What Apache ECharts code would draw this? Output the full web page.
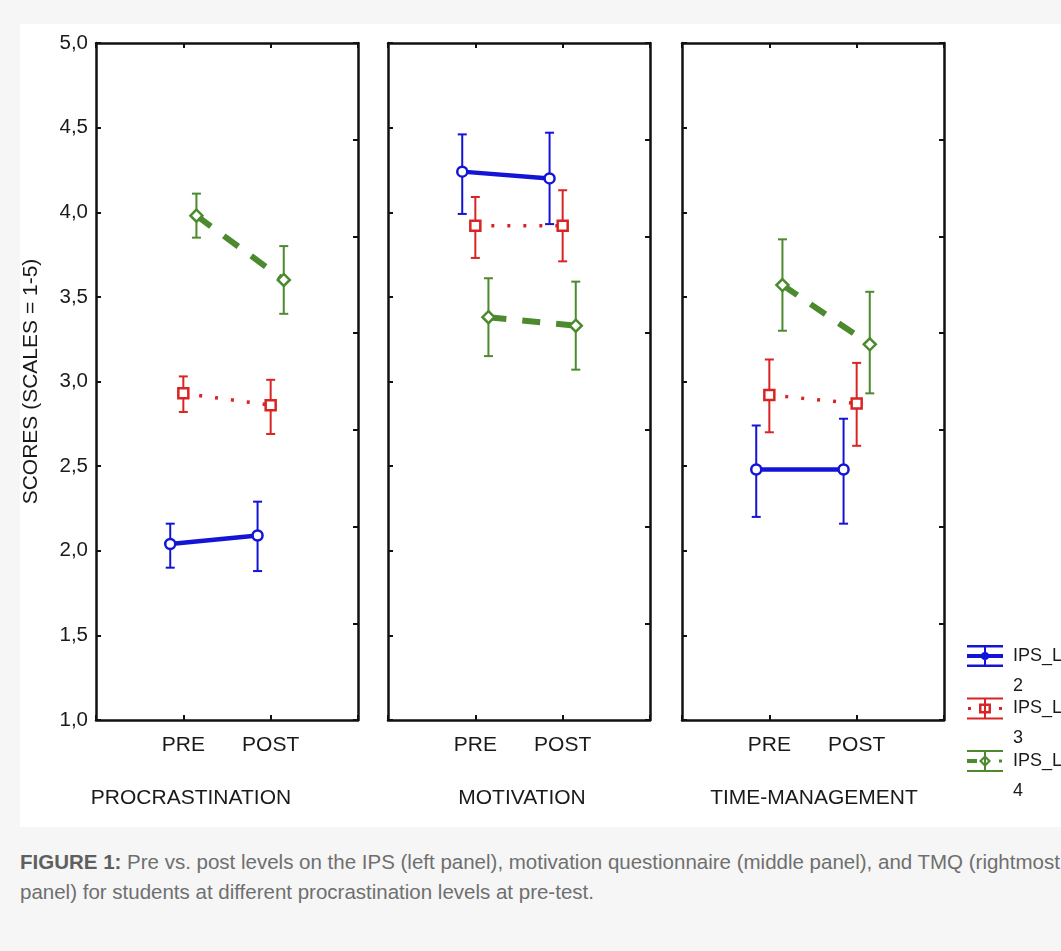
<!DOCTYPE html>
<html>
<head>
    <meta charset="utf-8">
    <title>IPS pre / post</title>
    <script src="https://cdn.jsdelivr.net/npm/echarts@6/dist/echarts.min.js"></script>
    <style>
        html, body { margin: 0; overflow: hidden; }
        body { background: #f6f6f6; font-family: "Liberation Sans", Arial, sans-serif; width: 1061px; height: 951px; }
        #paper { position: absolute; left: 20px; top: 24px; width: 1041px; height: 803px; background: #fff; }
        #chart { position: absolute; left: 0; top: 0; width: 1061px; height: 827px; }
        #caption { position: absolute; left: 20px; top: 847px; font-size: 20.5px; line-height: 30px; color: #6f6f6f; white-space: nowrap; }
        #caption b { color: #5f5f5f; }
    </style>
</head>
<body>
<div id="paper"></div>
<div id="chart"></div>
<div id="caption"><b>FIGURE 1:</b> Pre vs. post levels on the IPS (left panel), motivation questionnaire (middle panel), and TMQ (rightmost<br>panel) for students at different procrastination levels at pre-test.</div>

<script>
    // panels / phases / groups
    var panels = ['PROCRASTINATION', 'MOTIVATION', 'TIME-MANAGEMENT'];
    var phases = ['PRE', 'POST'];
    var groups = ['IPS_LEVEL 2', 'IPS_LEVEL 3', 'IPS_LEVEL 4'];

    // values per panel: [pre, post]
    var meanLevel2 = [[2.04, 2.09], [4.24, 4.20], [2.48, 2.48]];
    var lowLevel2  = [[1.90, 1.88], [3.99, 3.93], [2.20, 2.16]];
    var highLevel2 = [[2.16, 2.29], [4.46, 4.47], [2.74, 2.78]];

    var meanLevel3 = [[2.93, 2.86], [3.92, 3.92], [2.92, 2.87]];
    var lowLevel3  = [[2.82, 2.69], [3.73, 3.71], [2.70, 2.62]];
    var highLevel3 = [[3.03, 3.01], [4.09, 4.13], [3.13, 3.11]];

    var meanLevel4 = [[3.98, 3.60], [3.38, 3.33], [3.57, 3.22]];
    var lowLevel4  = [[3.85, 3.40], [3.15, 3.07], [3.30, 2.93]];
    var highLevel4 = [[4.11, 3.80], [3.61, 3.59], [3.84, 3.53]];

    var means = [meanLevel2, meanLevel3, meanLevel4];
    var lows = [lowLevel2, lowLevel3, lowLevel4];
    var highs = [highLevel2, highLevel3, highLevel4];

    // styling
    var colors = ['#1414d6', '#d82424', '#4b8a2d'];
    var dodge = [-0.15, 0, 0.15];
    var gridLeft = [96, 388, 682];
    var titleX = [191, 522, 814];
    var symbols = ['circle', 'rect', 'diamond'];
    var symbolSizes = [10, 10, 12];
    var lineStyles = [
        {width: 4.5, type: 'solid'},
        {width: 3.5, type: [3, 13]},
        {width: 6, type: [18, 16]}
    ];
    var legendIcons = [
        'path://M0 0h36v2.5H0z M0 19.5h36v2.5H0z M17 0h2v22h-2z M0 9h36v4H0z M14 11a4 4 0 1 1 8 0a4 4 0 1 1 -8 0z',
        'path://M0 0h36v2H0z M0 20h36v2H0z M17 0h2v22h-2z M12 6h12v10H12z M14.5 8.5v5h7v-5z M1 9.5h3v3H1z M32 9.5h3v3h-3z',
        'path://M0 0h36v2H0z M0 20h36v2H0z M17 0h2v22h-2z M0 9h10v4H0z M32 9.5h3v3h-3z M18 5l6 6l-6 6l-6 -6z M18 8l-3 3l3 3l3 -3z'
    ];
    var ink = '#111';
    var fontFamily = '"Liberation Sans", Arial, sans-serif';

    function errorBar(params, api) {
        var x = api.value(0);
        var lo = api.coord([x, api.value(1)]);
        var hi = api.coord([x, api.value(2)]);
        var style = {stroke: api.visual('color'), lineWidth: 2};
        var w = 4.5;
        return {
            type: 'group',
            children: [
                {type: 'line', shape: {x1: lo[0], y1: lo[1], x2: hi[0], y2: hi[1]}, style: style},
                {type: 'line', shape: {x1: lo[0] - w, y1: lo[1], x2: lo[0] + w, y2: lo[1]}, style: style},
                {type: 'line', shape: {x1: hi[0] - w, y1: hi[1], x2: hi[0] + w, y2: hi[1]}, style: style}
            ]
        };
    }

    var grids = [], xAxes = [], yAxes = [], titles = [], series = [];
    var axisLine = {show: true, onZero: false, lineStyle: {color: ink, width: 2.5}};
    var axisTick = {show: true, inside: true, length: 5, lineStyle: {color: ink, width: 2}};

    for (var p = 0; p < panels.length; p++) {
        grids.push({left: gridLeft[p], top: 43, width: 262, height: 677});
        xAxes.push({
            gridIndex: p, type: 'value', min: 0, max: 3, interval: 1, position: 'bottom',
            axisLine: axisLine, axisTick: axisTick, splitLine: {show: false},
            axisLabel: {
                fontSize: 21, color: '#1a1a1a', margin: 15, fontFamily: fontFamily,
                formatter: function (v) { return phases[v - 1] || ''; }
            }
        });
        xAxes.push({
            gridIndex: p, type: 'value', min: 0, max: 3, interval: 1, position: 'top',
            axisLine: axisLine, axisTick: axisTick, splitLine: {show: false}, axisLabel: {show: false}
        });
        yAxes.push({
            gridIndex: p, type: 'value', min: 1, max: 5, interval: 0.5, position: 'left',
            axisLine: axisLine, axisTick: axisTick, splitLine: {show: false},
            name: p === 0 ? 'SCORES (SCALES = 1-5)' : '',
            nameLocation: 'middle', nameGap: 54,
            nameTextStyle: {fontSize: 21, color: '#1a1a1a', fontFamily: fontFamily},
            axisLabel: {
                show: p === 0, fontSize: 20.5, color: '#1a1a1a', margin: 8, fontFamily: fontFamily,
                formatter: function (v) { return v.toFixed(1).replace('.', ','); }
            }
        });
        yAxes.push({
            gridIndex: p, type: 'value', min: 0, max: 7, interval: 1, position: 'right',
            axisLine: axisLine, axisTick: axisTick, splitLine: {show: false}, axisLabel: {show: false}
        });
        titles.push({
            text: panels[p], left: titleX[p], top: 788, textAlign: 'center', padding: 0,
            textStyle: {fontSize: 21, fontWeight: 'normal', color: '#1a1a1a', fontFamily: fontFamily}
        });

        for (var g = 0; g < groups.length; g++) {
            var pts = [], bars = [];
            for (var t = 0; t < phases.length; t++) {
                var x = t + 1 + dodge[g];
                pts.push([x, means[g][p][t]]);
                bars.push([x, lows[g][p][t], highs[g][p][t]]);
            }
            series.push({
                type: 'custom', name: groups[g], xAxisIndex: p * 2, yAxisIndex: p * 2,
                data: bars, renderItem: errorBar, itemStyle: {color: colors[g]}, z: 2
            });
            series.push({
                type: 'line', name: groups[g], xAxisIndex: p * 2, yAxisIndex: p * 2,
                data: pts, symbol: symbols[g], symbolSize: symbolSizes[g], showSymbol: true,
                itemStyle: {color: '#fff', borderColor: colors[g], borderWidth: 2.5},
                lineStyle: {color: colors[g], width: lineStyles[g].width, type: lineStyles[g].type},
                z: 3
            });
        }
    }

    var chart = echarts.init(document.getElementById('chart'));
    chart.setOption({
        animation: false,
        backgroundColor: 'transparent',
        textStyle: {fontFamily: fontFamily},
        title: titles,
        grid: grids,
        xAxis: xAxes,
        yAxis: yAxes,
        legend: {
            orient: 'vertical', left: 967, top: 611, padding: 0,
            itemWidth: 36, itemHeight: 22, itemGap: -37.5, selectedMode: false,
            data: groups.map(function (n, i) {
                return {name: n, icon: legendIcons[i], itemStyle: {color: colors[i], borderWidth: 0}};
            }),
            // empty first line so that the label's first row sits level with the icon
            formatter: function (n) { return '\n' + n.replace(' ', '\n'); },
            textStyle: {fontSize: 18, lineHeight: 30, color: '#1a1a1a', padding: [0, 0, 0, 5], fontFamily: fontFamily}
        },
        series: series
    });
</script>
</body>
</html>
